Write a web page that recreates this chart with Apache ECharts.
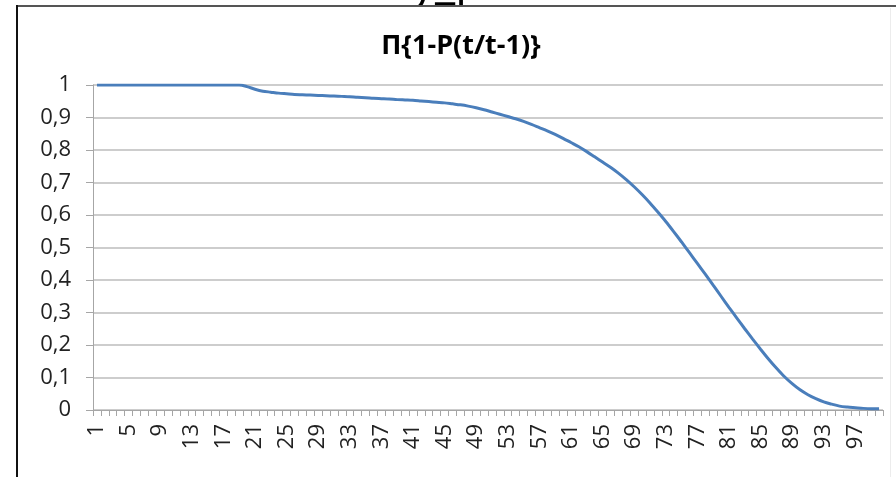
<!DOCTYPE html>
<html>
<head>
<meta charset="utf-8">
<script src="https://cdn.jsdelivr.net/npm/echarts@6/dist/echarts.min.js"></script>
<style>
  html, body { margin: 0; padding: 0; background: #ffffff; }
  #chart { width: 896px; height: 477px; }
</style>
</head>
<body>
<div id="chart"></div>
<script>
// Survival product by period t = 1..100
const titleText = 'Π{1-P(t/t-1)}';
const headerFragment = 'y_p';

const periods = [];
for (let t = 1; t <= 100; t++) periods.push(String(t));

const survival = [
  1, 1, 1, 1, 1, 1, 1, 1, 1, 1,
  1, 1, 1, 1, 1, 1, 1, 1, 1, 0.995,
  0.987, 0.981, 0.978, 0.975, 0.973, 0.971, 0.970, 0.969, 0.968, 0.967,
  0.966, 0.965, 0.964, 0.962, 0.961, 0.959, 0.958, 0.957, 0.955, 0.954,
  0.953, 0.951, 0.949, 0.947, 0.945, 0.942, 0.939, 0.935, 0.930, 0.924,
  0.917, 0.910, 0.903, 0.896, 0.888, 0.879, 0.869, 0.859, 0.848, 0.836,
  0.823, 0.810, 0.795, 0.779, 0.763, 0.747, 0.729, 0.709, 0.687, 0.663,
  0.637, 0.609, 0.580, 0.549, 0.517, 0.484, 0.451, 0.418, 0.384, 0.350,
  0.316, 0.283, 0.250, 0.218, 0.187, 0.157, 0.129, 0.103, 0.081, 0.062,
  0.047, 0.035, 0.025, 0.018, 0.012, 0.009, 0.007, 0.005, 0.004, 0.004
];

const yTicks = { min: 0, max: 1, step: 0.1 };

const chart = echarts.init(document.getElementById('chart'), null, { renderer: 'canvas' });
const labelFont = '"Open Sans", sans-serif';

chart.setOption({
  backgroundColor: '#ffffff',
  animation: false,
  title: {
    text: titleText,
    left: 456,
    top: 28,
    textAlign: 'center',
    textStyle: { fontFamily: labelFont, fontSize: 27, fontWeight: 'bold', color: '#000000' }
  },
  grid: { left: 93, right: 13, top: 85, bottom: 67, containLabel: false },
  xAxis: {
    type: 'category',
    data: periods,
    boundaryGap: true,
    axisLine: { show: true, lineStyle: { color: '#a6a6a6', width: 1 } },
    axisTick: { show: true, interval: 0, length: 6, lineStyle: { color: '#a6a6a6' } },
    axisLabel: {
      interval: 3,
      rotate: 90,
      margin: 14,
      fontFamily: labelFont,
      fontSize: 22,
      color: '#222222'
    },
    splitLine: { show: false }
  },
  yAxis: {
    type: 'value',
    min: yTicks.min,
    max: yTicks.max,
    interval: yTicks.step,
    axisLine: { show: true, lineStyle: { color: '#a6a6a6', width: 1 } },
    axisTick: { show: true, length: 7, lineStyle: { color: '#a6a6a6' } },
    axisLabel: {
      margin: 22,
      fontFamily: labelFont,
      fontSize: 22,
      color: '#222222',
      formatter: v => String(Math.round(v * 10) / 10).replace('.', ',')
    },
    splitLine: { show: true, lineStyle: { color: '#bdbdbd', width: 1.5 } }
  },
  series: [{
    type: 'line',
    data: survival,
    showSymbol: false,
    smooth: 0.3,
    lineStyle: { color: '#4a7ebb', width: 3 },
    itemStyle: { color: '#4a7ebb' }
  }],
  graphic: [
    {
      type: 'text',
      x: 412,
      y: 8,
      z: 0,
      style: {
        text: headerFragment,
        font: '46px "Open Sans", sans-serif',
        fill: '#000000',
        align: 'left',
        verticalAlign: 'bottom'
      }
    },
    {
      type: 'line',
      shape: { x1: 16, y1: 6, x2: 896, y2: 6 },
      style: { stroke: '#555555', lineWidth: 2 },
      z: 10
    },
    {
      type: 'rect',
      shape: { x: 0, y: 7, width: 896, height: 20 },
      style: { fill: '#ffffff' },
      z: 5
    },
    {
      type: 'line',
      shape: { x1: 17, y1: 5, x2: 17, y2: 477 },
      style: { stroke: '#111111', lineWidth: 2 },
      z: 10
    },
    {
      type: 'line',
      shape: { x1: 890.5, y1: 8, x2: 890.5, y2: 477 },
      style: { stroke: '#ececec', lineWidth: 1 },
      z: 10
    }
  ]
});
</script>
</body>
</html>
